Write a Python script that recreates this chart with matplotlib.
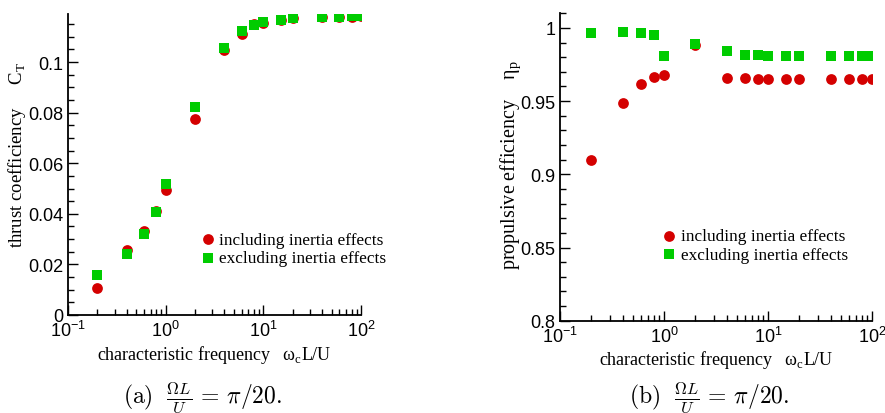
import matplotlib
matplotlib.use("Agg")
import matplotlib.pyplot as plt
from matplotlib.ticker import FuncFormatter, MultipleLocator, LogLocator

plt.rcParams['mathtext.fontset'] = 'custom'
plt.rcParams['mathtext.rm'] = 'Liberation Sans'
plt.rcParams['mathtext.it'] = 'Liberation Sans:italic'

freq = [0.2, 0.4, 0.6, 0.8, 1, 2, 4, 6, 8, 10, 15, 20, 40, 60, 80, 100]
ct_incl = [0.0105, 0.0257, 0.0334, 0.0411, 0.0495, 0.0773, 0.1046, 0.1109,
           0.1149, 0.1155, 0.1168, 0.1175, 0.1180, 0.1180, 0.1180, 0.1182]
ct_excl = [0.0157, 0.0241, 0.0321, 0.0408, 0.0519, 0.0824, 0.1055, 0.1121,
           0.1145, 0.1158, 0.1168, 0.1175, 0.1180, 0.1180, 0.1181, 0.1182]
eta_incl = [0.9097, 0.9488, 0.9620, 0.9663, 0.9679, 0.9880, 0.9657, 0.9657,
            0.9654, 0.9654, 0.9654, 0.9654, 0.9650, 0.9650, 0.9650, 0.9650]
eta_excl = [0.9962, 0.9969, 0.9962, 0.9955, 0.9809, 0.9889, 0.9839, 0.9816,
            0.9816, 0.9810, 0.9810, 0.9810, 0.9810, 0.9810, 0.9810, 0.9810]
legend_labels = ["including inertia effects", "excluding inertia effects"]

RED = '#d40000'
GREEN = '#00cc00'
SANS = 'Liberation Sans'
SERIF = 'Liberation Serif'

fig = plt.figure(figsize=(8.85, 4.14), dpi=100)
ax1 = fig.add_axes([68/885, 1-316/414, 293/885, 301/414])
ax2 = fig.add_axes([560/885, 1-321.7/414, 312/885, 307.7/414])


def style(ax):
    ax.set_xscale('log')
    ax.set_xlim(0.1, 100)
    for s in ['top', 'right']:
        ax.spines[s].set_visible(False)
    for s in ['left', 'bottom']:
        ax.spines[s].set_linewidth(1.3)
    ax.tick_params(which='both', direction='in', top=False, right=False,
                   labelsize=13, width=1.0)
    ax.tick_params(which='major', length=7)
    ax.tick_params(which='minor', length=4)
    ax.xaxis.set_major_locator(LogLocator(base=10, numticks=10))
    ax.xaxis.set_minor_locator(LogLocator(base=10, subs=range(2, 10), numticks=10))
    ax.yaxis.set_major_formatter(FuncFormatter(lambda v, p: '%g' % round(v, 6)))
    ax.set_xlabel(r'characteristic frequency   ω$_\mathregular{c}$L/U',
                  fontfamily=SERIF, fontsize=13, labelpad=2)


style(ax1)
ax1.scatter(freq, ct_incl, s=60, marker='o', color=RED, zorder=3,
            label=legend_labels[0], linewidths=0)
ax1.scatter(freq, ct_excl, s=42, marker='s', color=GREEN, zorder=4,
            label=legend_labels[1], linewidths=0)
ax1.set_ylim(0, 0.119)
ax1.yaxis.set_major_locator(MultipleLocator(0.02))
ax1.yaxis.set_minor_locator(MultipleLocator(0.005))
ax1.set_ylabel('thrust coefficiency     C$_\\mathregular{T}$', fontfamily=SERIF, fontsize=13.5)
ax1.yaxis.set_label_coords(-0.137, 0.535)
ax1.legend(loc='upper left', bbox_to_anchor=(0.41, 0.3), frameon=False,
           prop={'family': SERIF, 'size': 12.4}, handletextpad=-0.1,
           labelspacing=0.15, borderaxespad=0, handlelength=1.5)

style(ax2)
ax2.scatter(freq, eta_incl, s=60, marker='o', color=RED, zorder=3,
            label=legend_labels[0], linewidths=0)
ax2.scatter(freq, eta_excl, s=42, marker='s', color=GREEN, zorder=4,
            label=legend_labels[1], linewidths=0)
ax2.set_ylim(0.8, 1.0102)
ax2.yaxis.set_major_locator(MultipleLocator(0.05))
ax2.yaxis.set_minor_locator(MultipleLocator(0.01))
ax2.set_ylabel('propulsive efficiency    η$_\\mathregular{p}$', fontfamily=SERIF, fontsize=14.5)
ax2.yaxis.set_label_coords(-0.12, 0.51)
ax2.legend(loc='upper left', bbox_to_anchor=(0.287, 0.323), frameon=False,
           prop={'family': SERIF, 'size': 12.4}, handletextpad=-0.1,
           labelspacing=0.15, borderaxespad=0, handlelength=1.5)

for lab in ax1.get_xticklabels() + ax1.get_yticklabels() + ax2.get_xticklabels() + ax2.get_yticklabels():
    lab.set_fontfamily(SANS)

cap = r'$\mathrm{(a)}\ \ \frac{\Omega L}{U}\,=\,\pi/20.$'
fig.text(203/885, 1-398/414, cap, ha='center', va='center',
         fontsize=17, math_fontfamily='cm')
fig.text(709/885, 1-398/414, cap.replace('(a)', '(b)'), ha='center', va='center',
         fontsize=17, math_fontfamily='cm')

fig.savefig('out.png', dpi=100)
